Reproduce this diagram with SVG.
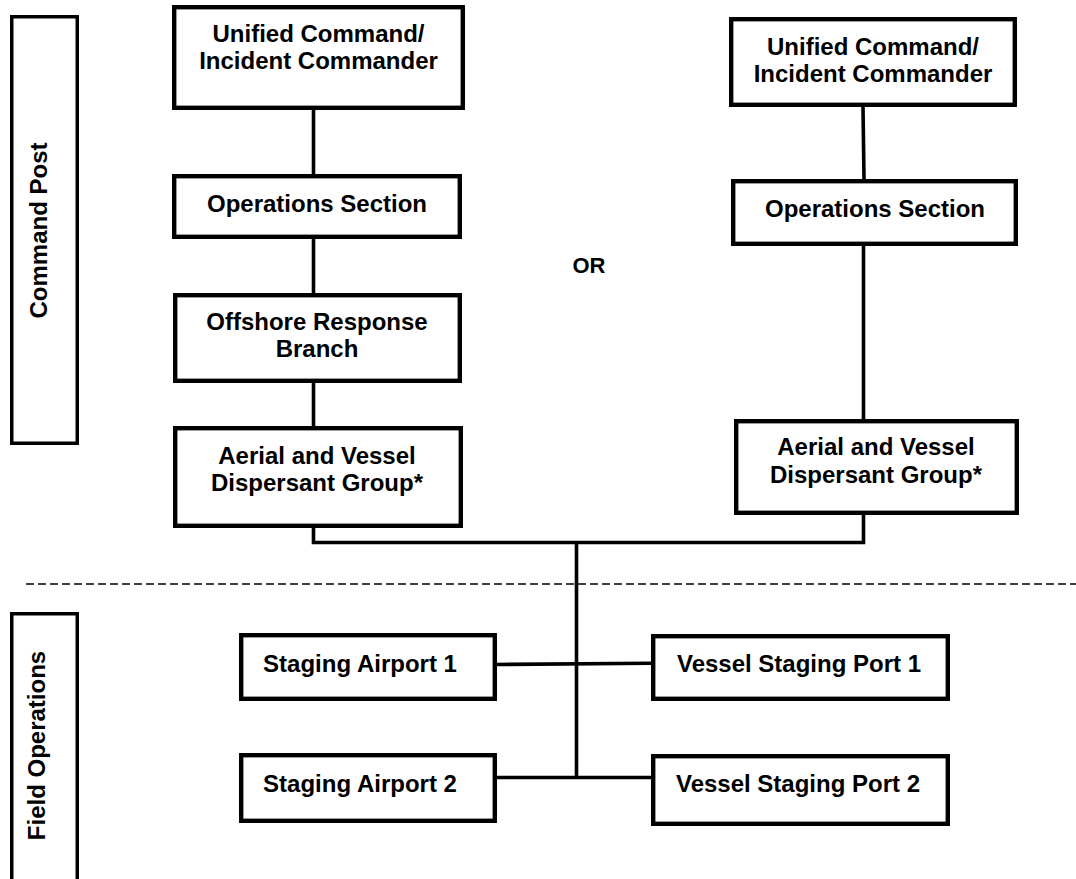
<svg xmlns="http://www.w3.org/2000/svg" width="1076" height="879" viewBox="0 0 1076 879">
<style>
  .node rect { fill: #ffffff; stroke: #000000; stroke-width: 4.4; }
  .side rect { fill: #ffffff; stroke: #000000; stroke-width: 3.5; }
  text { font-family: "Liberation Sans", Arial, Helvetica, sans-serif; font-weight: bold; font-size: 24px; fill: #000000; text-anchor: middle; }
  .conn line, .conn path { stroke: #000000; stroke-width: 3.6; fill: none; }
  .divider { stroke: #000000; stroke-width: 1.4; stroke-dasharray: 8 4; }
</style>
<rect width="1076" height="879" fill="#ffffff"/>

<g id="connectors" class="conn">
  <line x1="313.5" y1="110" x2="313.5" y2="174"/>
  <line x1="313.5" y1="239" x2="313.5" y2="293"/>
  <line x1="313.5" y1="383" x2="313.5" y2="426"/>
  <path d="M313.5 528 V542.5 H863.5 V515"/>
  <line x1="863" y1="107" x2="864" y2="179"/>
  <line x1="863.5" y1="246" x2="863.5" y2="419"/>
  <line x1="576.5" y1="542.5" x2="576.5" y2="777.5"/>
  <line x1="497" y1="664.5" x2="651" y2="663.3"/>
  <line x1="497" y1="777.5" x2="651" y2="777.5"/>
</g>

<line id="divider" class="divider" x1="26" y1="584" x2="1076" y2="584"/>

<g id="command-post" class="side">
  <rect x="11.75" y="16.75" width="65.5" height="426.5"/>
  <text transform="translate(47,230.5) rotate(-90)">Command Post</text>
</g>
<g id="field-operations" class="side">
  <rect x="11.75" y="613.75" width="65.5" height="300"/>
  <text transform="translate(45,745.5) rotate(-90)">Field Operations</text>
</g>

<g id="uc-left" class="node">
  <rect x="174.2" y="7.2" width="288.6" height="100.6"/>
  <text x="318.5" y="42">Unified Command/</text>
  <text x="318.5" y="69">Incident Commander</text>
</g>
<g id="ops-left" class="node">
  <rect x="174.2" y="176.2" width="285.6" height="60.6"/>
  <text x="317" y="212">Operations Section</text>
</g>
<g id="offshore-branch" class="node">
  <rect x="175.2" y="295.2" width="284.6" height="85.6"/>
  <text x="317" y="330">Offshore Response</text>
  <text x="317" y="357">Branch</text>
</g>
<g id="aerial-left" class="node">
  <rect x="175.2" y="428.2" width="285.6" height="97.6"/>
  <text x="317" y="464">Aerial and Vessel</text>
  <text x="317" y="491">Dispersant Group*</text>
</g>

<g id="uc-right" class="node">
  <rect x="731.2" y="19.2" width="283.6" height="85.6"/>
  <text x="873" y="55">Unified Command/</text>
  <text x="873" y="82">Incident Commander</text>
</g>
<g id="ops-right" class="node">
  <rect x="733.2" y="181.2" width="282.6" height="62.6"/>
  <text x="875" y="217">Operations Section</text>
</g>
<g id="aerial-right" class="node">
  <rect x="736.2" y="421.2" width="280.6" height="91.6"/>
  <text x="876" y="455">Aerial and Vessel</text>
  <text x="876" y="483">Dispersant Group*</text>
</g>

<g id="or-label">
  <text x="589" y="273" style="font-size:22px">OR</text>
</g>

<g id="staging-airport-1" class="node">
  <rect x="241.2" y="635.2" width="253.6" height="63.6"/>
  <text x="360" y="672">Staging Airport 1</text>
</g>
<g id="staging-airport-2" class="node">
  <rect x="241.2" y="755.2" width="253.6" height="65.6"/>
  <text x="360" y="792">Staging Airport 2</text>
</g>
<g id="vessel-port-1" class="node">
  <rect x="653.2" y="636.2" width="294.6" height="62.6"/>
  <text x="799" y="672">Vessel Staging Port 1</text>
</g>
<g id="vessel-port-2" class="node">
  <rect x="653.2" y="756.2" width="294.6" height="67.6"/>
  <text x="798" y="792">Vessel Staging Port 2</text>
</g>
</svg>
